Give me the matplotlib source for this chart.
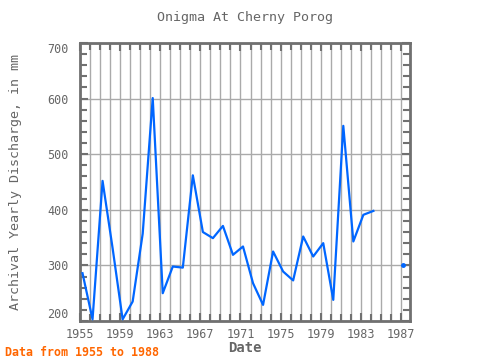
import numpy as np
import matplotlib
matplotlib.use("Agg")
import matplotlib.pyplot as plt
from matplotlib.ticker import MultipleLocator

years = np.arange(1955, 1988)
discharge = [286, 203, 452, 331, 203, 235, 357, 601, 250, 298, 296, 462,
             360, 349, 371, 319, 334, 268, 229, 325, 289, 273, 352, 316,
             340, 238, 551, 343, 391, 398, np.nan, np.nan, 300]
x_offset = 0.25
xticks = [1955, 1959, 1963, 1967, 1971, 1975, 1979, 1983, 1987]
yticks = [200, 300, 400, 500, 600, 700]

plt.rcParams['font.family'] = ['DejaVu Sans Mono']
gray = '#666666'
spine = '#707070'

fig = plt.figure(figsize=(4.8, 3.6), dpi=100)
ax = fig.add_axes([80/480, 1-321/360, 330/480, 278/360])

x = years + x_offset
y = np.array(discharge, dtype=float)
ax.plot(x, y, color='#0066ff', lw=1.6, zorder=3)
# isolated points (no neighbours) drawn as dots
valid = ~np.isnan(y)
prev_ok = np.r_[False, valid[:-1]]
next_ok = np.r_[valid[1:], False]
iso = valid & ~prev_ok & ~next_ok
ax.plot(x[iso], y[iso], 'o', color='#0066ff', ms=2.5, zorder=3)

ax.set_xlim(1955, 1987.9)
ax.set_ylim(200, 700)
ax.set_xticks(xticks)
ax.set_yticks(yticks)
ax.xaxis.set_minor_locator(MultipleLocator(1))
ax.yaxis.set_minor_locator(MultipleLocator(20))
ax.grid(which='minor', axis='x', color='#aaaaaa', lw=1)
ax.grid(which='major', axis='both', color='#aaaaaa', lw=1)
ax.set_axisbelow(True)
ax.tick_params(which='both', direction='in', top=True, right=True,
               color=spine, labelcolor=gray, labelsize=8.5)
ax.tick_params(which='major', length=6, width=1.5)
ax.tick_params(which='minor', length=5, width=1.5)
ax.tick_params(axis='y', pad=8)
ax.tick_params(axis='x', pad=5)
for s in ax.spines.values():
    s.set_color(spine)
    s.set_linewidth(2)

fig.canvas.draw()
ylabels = ax.get_yticklabels()
ylabels[0].set_va('bottom')
ylabels[-1].set_va('top')

ax.set_title('Onigma At Cherny Porog', color=gray, fontsize=9.6, pad=16)
ax.set_xlabel('Date', color=gray, fontsize=10, fontweight='bold')
ax.set_ylabel('Archival Yearly Discharge, in mm', color=gray, fontsize=9.6)
ax.xaxis.set_label_coords(0.5, -(348.5-321)/278)
ax.yaxis.set_label_coords(-(80-16)/330, 0.5)
ax.xaxis.label.set_va('center')
ax.yaxis.label.set_va('center')
fig.text(5/480, 1-352/360, 'Data from 1955 to 1988', color='#ff6600',
         fontsize=8.4, fontweight='bold', va='center', ha='left')

fig.savefig('out.png', dpi=100)
